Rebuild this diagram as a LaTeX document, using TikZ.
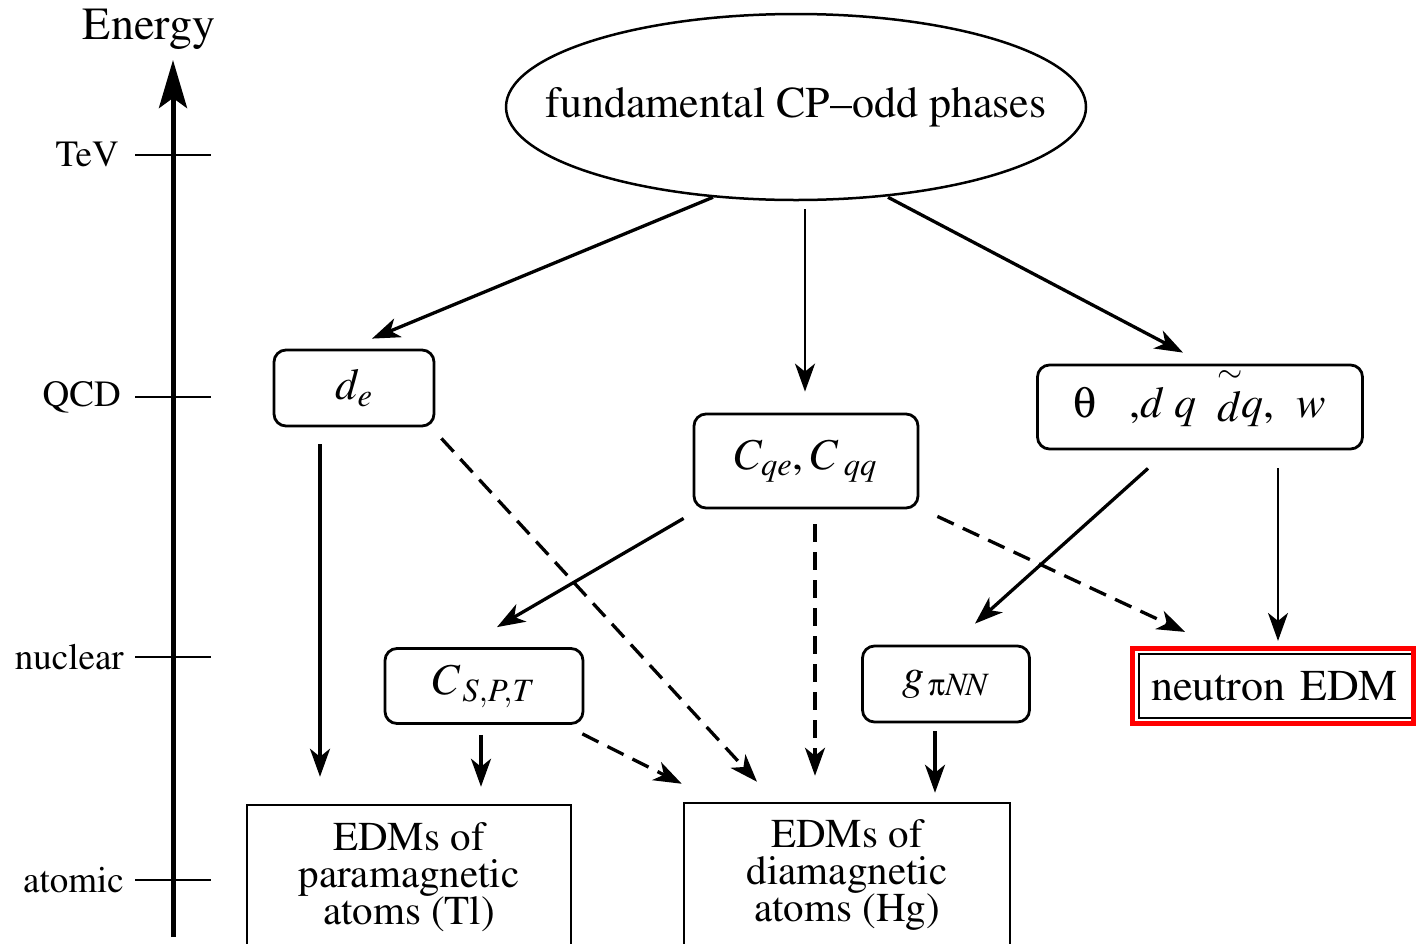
\documentclass[tikz,border=0pt]{standalone}
\usepackage[T1]{fontenc}
\usepackage{mathptmx}
\usetikzlibrary{shapes.geometric,arrows.meta}
\newcommand{\upsym}[1]{{\usefont{U}{psy}{m}{n}\char#1}}
\begin{document}
\begin{tikzpicture}[x=1pt,y=-1pt,
  main/.style={font=\fontsize{44}{48}\selectfont},
  rbox/.style={draw, line width=2.8pt, rounded corners=12pt, inner sep=0pt, main},
  sbox/.style={draw, line width=2.5pt, inner sep=0pt, align=center, font=\fontsize{41}{37}\selectfont},
  arr/.style={line width=3.3pt, -{Stealth[length=28pt,width=20pt,inset=8pt]}},
  thinarr/.style={arr, line width=2pt},
  darr/.style={arr, dash pattern=on 18pt off 10pt},
  tick/.style={line width=1.6pt},
  lab/.style={font=\fontsize{37}{40}\selectfont, anchor=east, inner sep=0pt},
  axis/.style={line width=5pt, -{Stealth[length=48pt,width=28pt,inset=10pt]}}
]
\useasboundingbox (0,0) rectangle (1416,943);
\fill[white] (0,0) rectangle (1416,943);

% energy axis
\node[font=\fontsize{46}{50}\selectfont] (energy) at (149,30) {Energy};
\coordinate (axbot) at (173,937);
\coordinate (axtop) at (173,60);
\draw[axis] (axbot) -- (axtop);
\node[lab] (tev) at (119,155) {TeV};
\node[lab] (qcd) at (121,397) {QCD};
\node[lab] (nuc) at (124,657) {nuclear};
\node[lab] (atm) at (124,880) {atomic};
\draw[tick] (135,155) -- (211,155);
\draw[tick] (135,397) -- (211,397);
\draw[tick] (135,657) -- (211,657);
\draw[tick] (135,880) -- (211,880);

% nodes
\node[draw, ellipse, line width=2.5pt, minimum width=580pt, minimum height=186pt, inner sep=0pt,
      label={[main]center:fundamental CP--odd phases}] (ell) at (796,107) {};
\node[rbox, minimum width=160pt, minimum height=76pt] (de) at (354,388) {$d_e$};
\node[rbox, minimum width=224pt, minimum height=94pt] (cq) at (806,461) {$C_{qe}$,\,$C_{\;qq}$};
\node[rbox, minimum width=325pt, minimum height=84pt] (th) at (1200,407) {\upsym{113}\hspace{0.75em},$d\;q$\hspace{0.45em}${\smash{\stackrel{\sim}{d}}}q$,\hspace{0.5em}$w$};
\node[rbox, minimum width=198pt, minimum height=75pt] (csp) at (484,686) {$C_{\,S,P,T}$};
\node[rbox, minimum width=167pt, minimum height=76pt] (g) at (946,684) {$g_{\,\mbox{\fontsize{31}{31}\selectfont\upsym{112}}N\!N}$};
\node[draw, line width=2.2pt, anchor=west, minimum height=64pt, text width=280pt, inner xsep=12pt, inner ysep=0pt, main] (neu) at (1138,686) {neutron EDM};
\draw[red, line width=5pt] (1132,648) rectangle (1413,723);
\node[sbox, minimum width=324pt, minimum height=144pt] (para) at (409,877) {EDMs of\\paramagnetic\\atoms (Tl)};
\node[sbox, minimum width=326pt, minimum height=144pt] (dia) at (847,875) {EDMs of\\diamagnetic\\atoms (Hg)};

% connectors
\draw[arr] ([shift={(-83,-4)}]ell.south) -- ([shift={(18,-10)}]de.north);
\draw[thinarr, line width=2.4pt] ([shift={(9,8)}]ell.south) -- ([shift={(-1,-21)}]cq.north);
\draw[arr] ([shift={(92,-4)}]ell.south) -- ([shift={(-17,-11)}]th.north);
\draw[arr] ([shift={(-34,17)}]de.south) -- ([shift={(-89,-27)}]para.north);
\draw[darr] ([shift={(6,11)}]de.south east) -- ([shift={(-90,-20)}]dia.north);
\draw[arr] ([shift={(-9,9)}]cq.south west) -- ([shift={(13,-20)}]csp.north);
\draw[darr] ([shift={(9,15)}]cq.south) -- ([shift={(-32,-26)}]dia.north);
\draw[darr] ([shift={(18,7)}]cq.south east) -- ([shift={(47,-21)}]neu.north west);
\draw[arr] ([shift={(-52,18)}]th.south) -- ([shift={(29,-21)}]g.north);
\draw[thinarr] ([shift={(78,18)}]th.south) -- ([shift={(140,-12)}]neu.north west);
\draw[arr] ([shift={(-3,10)}]csp.south) -- ([shift={(72,-17)}]para.north);
\draw[darr] ([shift={(-2,9)}]csp.south east) -- ([shift={(-1,-18)}]dia.north west);
\draw[arr] ([shift={(-11,8)}]g.south) -- ([shift={(88,-9)}]dia.north);
\end{tikzpicture}
\end{document}
